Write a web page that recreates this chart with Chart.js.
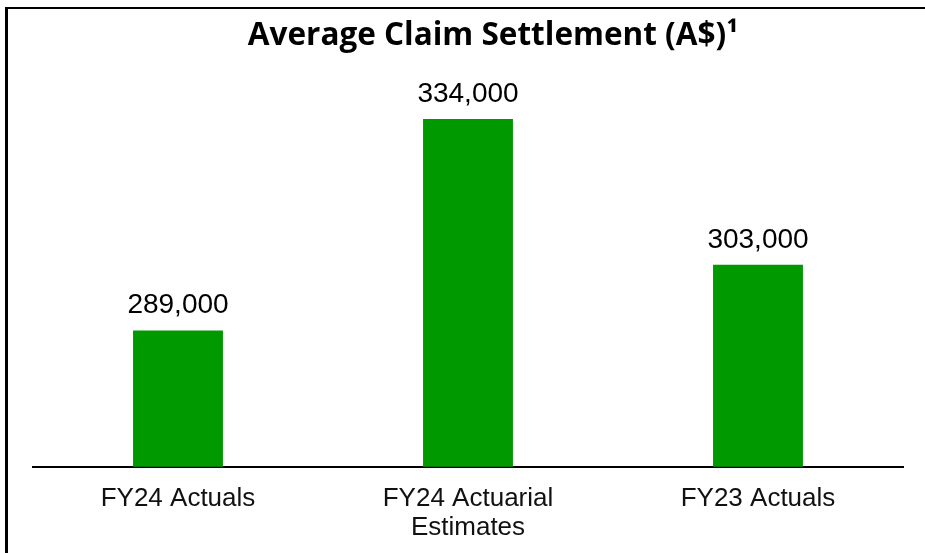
<!DOCTYPE html>
<html>
<head>
<meta charset="utf-8">
<script src="https://cdn.jsdelivr.net/npm/chart.js@4/dist/chart.umd.min.js"></script>
<style>
	body { margin: 0; background: #fff; }
	#wrap { position: relative; width: 925px; height: 553px; }
	#frame { position: absolute; left: 5px; top: 7px; right: 0; bottom: 0; border-left: 3px solid #000; border-top: 2px solid #000; pointer-events: none; }
</style>
</head>
<body>
<div id="wrap">
	<canvas id="chart1" width="925" height="553"></canvas>
	<div id="frame"></div>
</div>
<script>
var categories = [['FY24 Actuals'], ['FY24 Actuarial', 'Estimates'], ['FY23 Actuals']];
var settlements = [289000, 334000, 303000];
var chartTitle = 'Average Claim Settlement (A$)\u00B9';

// title sits a little right of the plot centre, as in the slide
var slideTitle = {
	id: 'slideTitle',
	afterDraw: function(chart) {
		var ctx = chart.ctx;
		var area = chart.chartArea;
		ctx.save();
		ctx.font = 'bold 31.5px "Open Sans", sans-serif';
		ctx.fillStyle = '#000';
		ctx.textAlign = 'center';
		ctx.textBaseline = 'alphabetic';
		ctx.fillText(chartTitle, (area.left + area.right) / 2 + 25, 45);
		ctx.restore();
	}
};

// draws the value above each bar
var valueLabels = {
	id: 'valueLabels',
	afterDatasetsDraw: function(chart) {
		var ctx = chart.ctx;
		var meta = chart.getDatasetMeta(0);
		ctx.save();
		ctx.font = '28px "Liberation Sans", Arial, sans-serif';
		ctx.fillStyle = '#000';
		ctx.textAlign = 'center';
		ctx.textBaseline = 'alphabetic';
		meta.data.forEach(function(bar, i) {
			var v = chart.data.datasets[0].data[i];
			ctx.fillText(v.toLocaleString('en-US'), bar.x, bar.y - 17);
		});
		ctx.restore();
	}
};

var ctx = document.getElementById("chart1").getContext("2d");
new Chart(ctx, {
	type: 'bar',
	data: {
		labels: categories,
		datasets: [{
			data: settlements,
			backgroundColor: '#009900',
			borderWidth: 0,
			barPercentage: 0.62,
			categoryPercentage: 0.5
		}]
	},
	options: {
		responsive: false,
		animation: false,
		layout: { padding: { left: 33, right: 22, top: 65, bottom: -7 } },
		plugins: {
			legend: { display: false },
			tooltip: { enabled: false },
			title: { display: false }
		},
		scales: {
			x: {
				grid: { display: false, drawTicks: false },
				border: { display: true, color: '#000', width: 2 },
				ticks: {
					color: '#111',
					padding: 17,
					maxRotation: 0,
					font: { family: '"Liberation Sans", Arial, sans-serif', size: 26, lineHeight: 1.14 }
				}
			},
			y: {
				display: false,
				min: 260000,
				max: 345500
			}
		}
	},
	plugins: [valueLabels, slideTitle]
});
</script>
</body>
</html>
